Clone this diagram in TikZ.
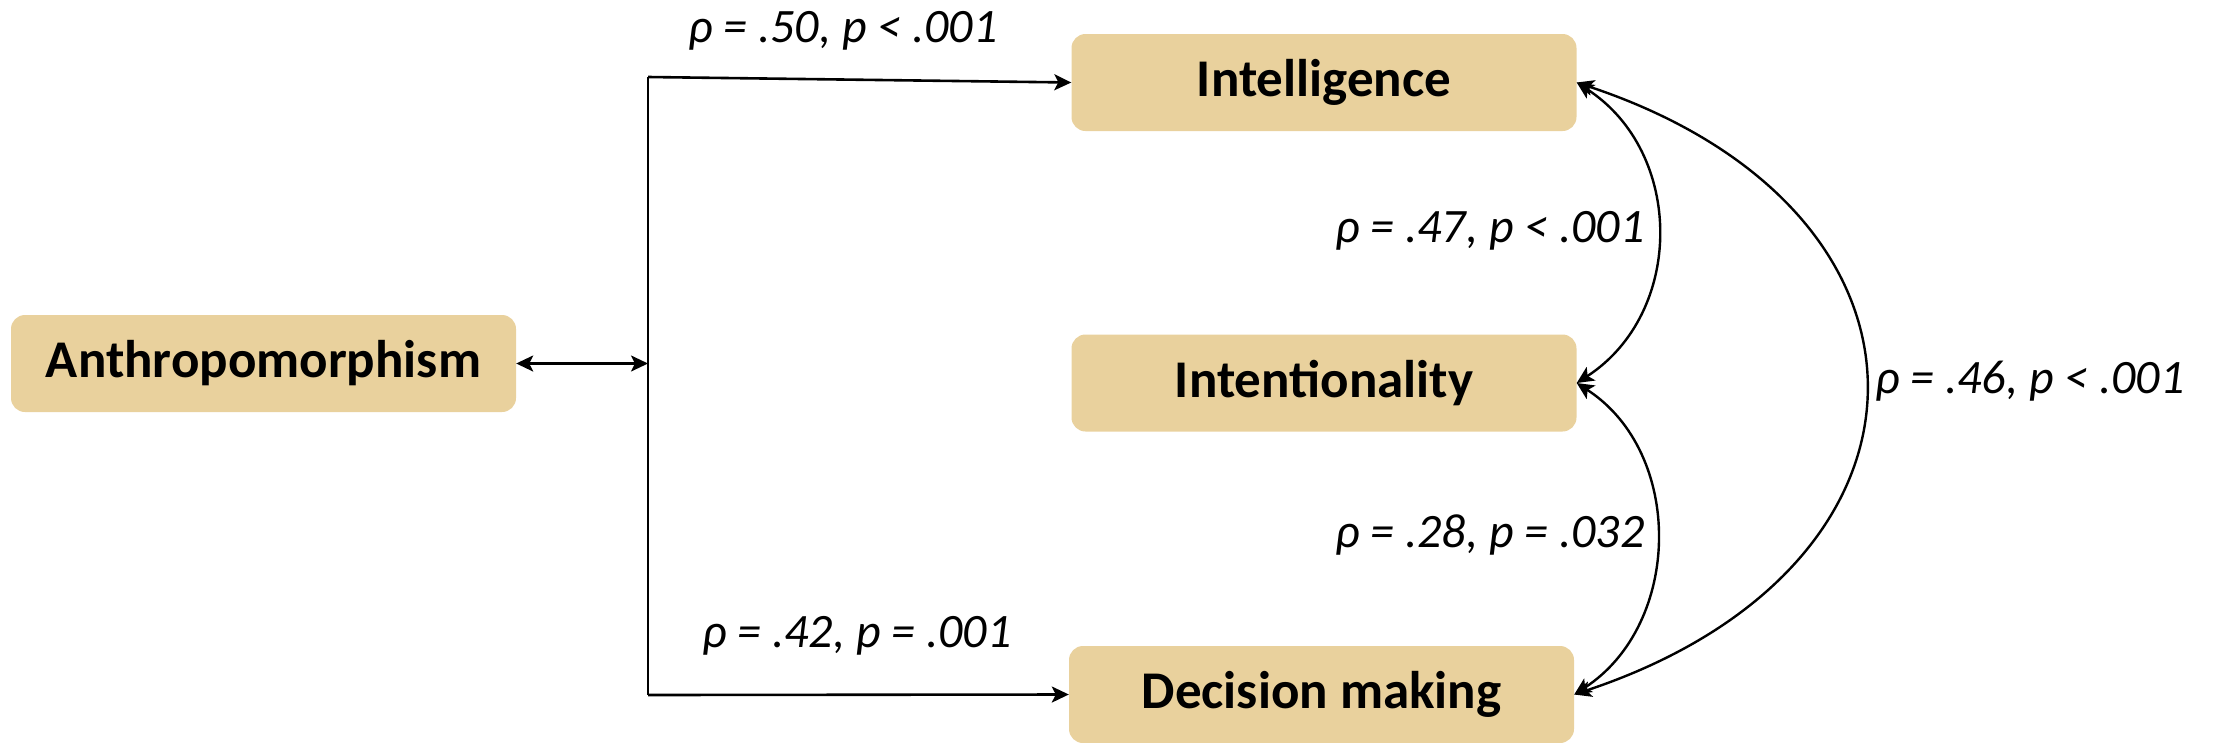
\documentclass[tikz,border=0pt]{standalone}
\usepackage{fontspec}
\setmainfont{Carlito}
\usetikzlibrary{arrows.meta}
\definecolor{boxfill}{RGB}{233,209,157}
\begin{document}
\begin{tikzpicture}[x=1pt,y=-1pt,
  varbox/.style={fill=boxfill, rounded corners=14pt, minimum width=505pt,
    minimum height=97pt, inner sep=0pt,
    font=\fontsize{53}{60}\selectfont\bfseries},
  stat/.style={font=\fontsize{48}{56}\selectfont\itshape, inner sep=0pt, anchor=base},
  tip/.tip={Stealth[length=17pt,width=16pt,inset=4pt]},
  link/.style={line width=2.6pt, -tip},
  corr/.style={line width=2.4pt, tip-tip},
]
\useasboundingbox (0,0) rectangle (2215,742);

% variables
\node[varbox] (anth)  at (263.5,363.5) {Anthropomorphism};
\node[varbox] (intel) at (1324,82.5)   {Intelligence};
\node[varbox] (inten) at (1324,383)    {Intentionality};
\node[varbox] (dec)   at (1321.5,694.5) {Decision making};

% branching trunk
\coordinate (jtop) at (648,77);
\coordinate (jmid) at (648,363.5);
\coordinate (jbot) at (648,695);
\draw[line width=2pt] (jtop) -- (jbot);
\draw[corr] (anth.east) -- (jmid);
\draw[link] (jtop) -- (intel.west);
\draw[link] (jbot) -- (dec.west);

% correlations among outcomes
\draw[corr] (intel.east) .. controls +(108,70) and +(108,-70) .. (inten.east);
\draw[corr] (inten.east) .. controls +(108,70) and +(108,-70) .. (dec.east);
\draw[corr] (intel.east) .. controls +(386,128) and +(386,-128) .. (dec.east);

% statistics
\node[stat] (s50) at (843,42)   {ρ = .50, p < .001};
\node[stat] (s42) at (857,647)  {ρ = .42, p = .001};
\node[stat] (s47) at (1490,242) {ρ = .47, p < .001};
\node[stat] (s28) at (1490,547) {ρ = .28, p = .032};
\node[stat] (s46) at (2030,393) {ρ = .46, p < .001};
\end{tikzpicture}
\end{document}
